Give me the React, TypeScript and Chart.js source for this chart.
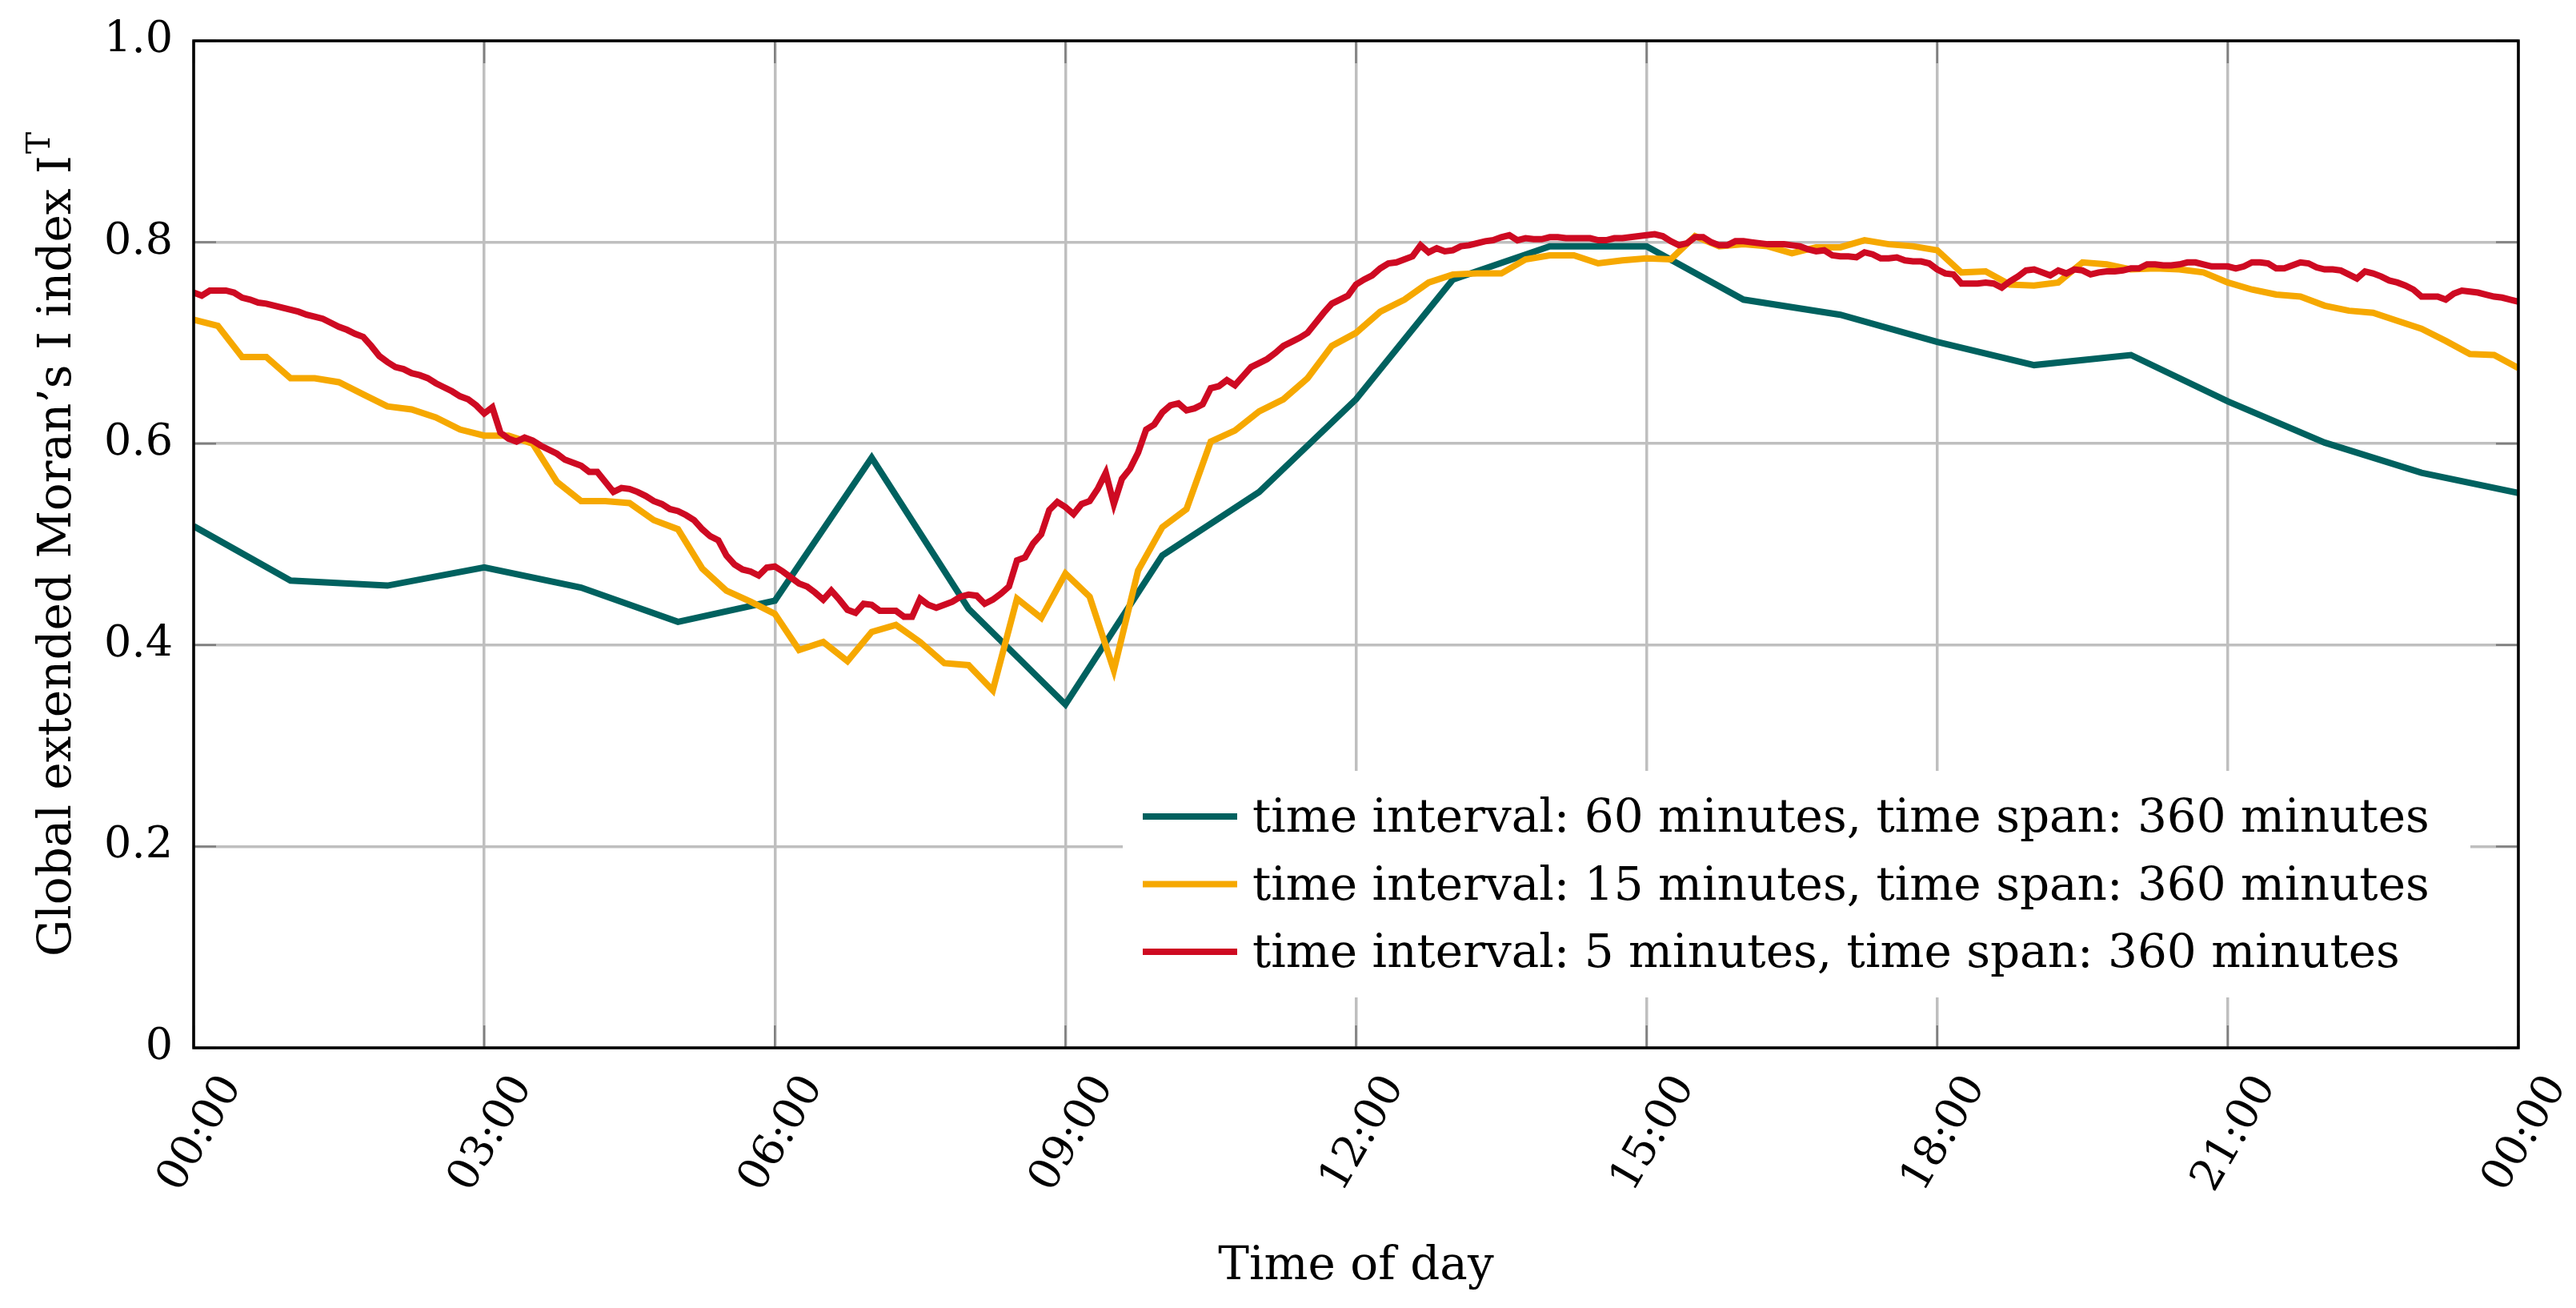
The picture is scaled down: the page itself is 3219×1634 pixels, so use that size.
import React, { useEffect, useRef } from 'react';
import { Chart, registerables } from 'chart.js';

Chart.register(...registerables);

// ---------- data ----------
const xTickLabels = ['00:00', '03:00', '06:00', '09:00', '12:00', '15:00', '18:00', '21:00', '00:00'];
const seriesLabels = [
  'time interval: 60 minutes, time span: 360 minutes',
  'time interval: 15 minutes, time span: 360 minutes',
  'time interval: 5 minutes, time span: 360 minutes',
];
const seriesColors = ['#00615F', '#F6A800', '#CE0A22'];
const seriesIntervals = [60, 15, 5]; // minutes between samples

const values60 = [
  0.518, 0.464, 0.459, 0.477, 0.457, 0.423, 0.444, 0.586, 0.436, 0.341, 0.489, 0.552, 0.644,
  0.763, 0.796, 0.796, 0.743, 0.728, 0.701, 0.678, 0.688, 0.642, 0.601, 0.571, 0.551,
];

const values15 = [
  0.723, 0.717, 0.686, 0.686, 0.665, 0.665, 0.661, 0.649, 0.637, 0.634, 0.626, 0.614,
  0.608, 0.608, 0.600, 0.562, 0.543, 0.543, 0.541, 0.524, 0.515, 0.476, 0.454, 0.443,
  0.431, 0.395, 0.403, 0.384, 0.413, 0.420, 0.403, 0.382, 0.380, 0.355, 0.446, 0.427,
  0.471, 0.448, 0.375, 0.474, 0.517, 0.535, 0.602, 0.613, 0.632, 0.644, 0.665, 0.697,
  0.710, 0.731, 0.743, 0.760, 0.768, 0.769, 0.769, 0.783, 0.787, 0.787, 0.779, 0.782,
  0.784, 0.783, 0.806, 0.796, 0.798, 0.796, 0.789, 0.795, 0.795, 0.802, 0.798, 0.796,
  0.792, 0.770, 0.771, 0.758, 0.757, 0.760, 0.780, 0.778, 0.773, 0.774, 0.773, 0.770,
  0.760, 0.753, 0.748, 0.746, 0.737, 0.732, 0.730, 0.722, 0.714, 0.702, 0.689, 0.688,
  0.675,
];

const values5 = [
  0.750, 0.747, 0.752, 0.752, 0.752, 0.750, 0.745, 0.743, 0.740, 0.739, 0.737, 0.735,
  0.733, 0.731, 0.728, 0.726, 0.724, 0.720, 0.716, 0.713, 0.709, 0.706, 0.697, 0.687,
  0.681, 0.676, 0.674, 0.670, 0.668, 0.665, 0.660, 0.656, 0.652, 0.647, 0.644, 0.638,
  0.630, 0.636, 0.611, 0.605, 0.602, 0.606, 0.603, 0.598, 0.594, 0.590, 0.584, 0.581,
  0.578, 0.572, 0.572, 0.562, 0.552, 0.556, 0.555, 0.552, 0.548, 0.543, 0.540, 0.535,
  0.533, 0.529, 0.524, 0.515, 0.508, 0.504, 0.489, 0.480, 0.475, 0.473, 0.469, 0.477,
  0.478, 0.473, 0.467, 0.461, 0.458, 0.452, 0.445, 0.454, 0.445, 0.435, 0.432, 0.441,
  0.440, 0.434, 0.434, 0.434, 0.428, 0.428, 0.446, 0.440, 0.437, 0.440, 0.443, 0.448,
  0.450, 0.449, 0.441, 0.445, 0.451, 0.458, 0.484, 0.487, 0.501, 0.510, 0.534, 0.542,
  0.537, 0.530, 0.540, 0.543, 0.555, 0.571, 0.540, 0.565, 0.575, 0.591, 0.614, 0.619,
  0.631, 0.638, 0.640, 0.633, 0.635, 0.639, 0.655, 0.657, 0.663, 0.658, 0.667, 0.676,
  0.680, 0.684, 0.690, 0.697, 0.701, 0.705, 0.710, 0.720, 0.730, 0.739, 0.743, 0.747,
  0.758, 0.763, 0.767, 0.774, 0.779, 0.780, 0.783, 0.786, 0.797, 0.790, 0.794, 0.791,
  0.792, 0.796, 0.797, 0.799, 0.801, 0.802, 0.805, 0.807, 0.802, 0.804, 0.803, 0.803,
  0.805, 0.805, 0.804, 0.804, 0.804, 0.804, 0.802, 0.802, 0.804, 0.804, 0.805, 0.806,
  0.807, 0.808, 0.806, 0.801, 0.797, 0.799, 0.805, 0.805, 0.800, 0.797, 0.797, 0.801,
  0.801, 0.800, 0.799, 0.798, 0.798, 0.798, 0.797, 0.796, 0.793, 0.791, 0.792, 0.787,
  0.786, 0.786, 0.785, 0.790, 0.788, 0.784, 0.784, 0.785, 0.782, 0.781, 0.781, 0.779,
  0.773, 0.769, 0.768, 0.759, 0.759, 0.759, 0.760, 0.759, 0.755, 0.761, 0.766, 0.772,
  0.773, 0.770, 0.767, 0.772, 0.769, 0.773, 0.772, 0.768, 0.770, 0.771, 0.771, 0.772,
  0.774, 0.774, 0.778, 0.778, 0.777, 0.777, 0.778, 0.780, 0.780, 0.778, 0.776, 0.776,
  0.776, 0.774, 0.776, 0.780, 0.780, 0.779, 0.774, 0.774, 0.777, 0.780, 0.779, 0.775,
  0.773, 0.773, 0.772, 0.768, 0.764, 0.771, 0.769, 0.766, 0.762, 0.760, 0.757, 0.753,
  0.746, 0.746, 0.746, 0.743, 0.749, 0.752, 0.751, 0.750, 0.748, 0.746, 0.745, 0.743,
  0.741,
];

const xTitle = 'Time of day';
const yTitleMain = 'Global extended Moran\u2019s I index I';
const yTitleSup = 'T';

// ---------- styling ----------
const FONT = '"DejaVu Serif", "Liberation Serif", serif';
const FS = 58;
const TICK_FS = 54;
const LINE_W = 8;
const W = 3219;
const H = 1634;

const toPoints = (vals: number[], step: number) => vals.map((v, i) => ({ x: i * step, y: v }));

const zeroPad = (s: any) => {
  s.paddingTop = 0;
  s.paddingBottom = 0;
  s.paddingLeft = 0;
  s.paddingRight = 0;
};

const decorPlugin = {
  id: 'decor',
  beforeDatasetsDraw(chart: any) {
    const { ctx, chartArea: a, scales } = chart;
    const L = 28;
    ctx.save();
    ctx.strokeStyle = '#7f7f7f';
    ctx.lineWidth = 2.5;
    ctx.beginPath();
    scales.x.ticks.forEach((t: any) => {
      const px = scales.x.getPixelForValue(t.value);
      ctx.moveTo(px, a.top); ctx.lineTo(px, a.top + L);
      ctx.moveTo(px, a.bottom); ctx.lineTo(px, a.bottom - L);
    });
    scales.y.ticks.forEach((t: any) => {
      const py = scales.y.getPixelForValue(t.value);
      ctx.moveTo(a.left, py); ctx.lineTo(a.left + L, py);
      ctx.moveTo(a.right, py); ctx.lineTo(a.right - L, py);
    });
    ctx.stroke();
    ctx.restore();
  },
  afterDatasetsDraw(chart: any) {
    const { ctx, chartArea: a } = chart;
    ctx.save();
    ctx.strokeStyle = '#000';
    ctx.lineWidth = 3.5;
    ctx.strokeRect(a.left, a.top, a.right - a.left, a.bottom - a.top);

    // legend
    const box = { x: 1403, y: 963, w: 1684, h: 283 };
    ctx.fillStyle = '#fff';
    ctx.fillRect(box.x, box.y, box.w, box.h);
    ctx.font = `${FS}px ${FONT}`;
    ctx.textAlign = 'left';
    ctx.textBaseline = 'alphabetic';
    chart.data.datasets.forEach((ds: any, i: number) => {
      const cy = 1020 + i * 84.5;
      ctx.strokeStyle = ds.borderColor;
      ctx.lineWidth = LINE_W;
      ctx.beginPath();
      ctx.moveTo(1428, cy);
      ctx.lineTo(1546, cy);
      ctx.stroke();
      ctx.fillStyle = '#000';
      ctx.fillText(ds.label, 1565, cy + 19);
    });
    ctx.restore();
  },
  afterDraw(chart: any) {
    const { ctx, chartArea: a } = chart;
    ctx.save();
    ctx.fillStyle = '#000';
    // x title
    ctx.font = `${FS}px ${FONT}`;
    ctx.textAlign = 'center';
    ctx.textBaseline = 'alphabetic';
    ctx.fillText(xTitle, (a.left + a.right) / 2, 1598);
    // y title with superscript
    const supSize = Math.round(FS * 0.7);
    ctx.font = `${FS}px ${FONT}`;
    const wMain = ctx.measureText(yTitleMain).width;
    ctx.font = `${supSize}px ${FONT}`;
    const wSup = ctx.measureText(yTitleSup).width;
    const total = wMain + wSup + 2;
    ctx.translate(88, (a.top + a.bottom) / 2);
    ctx.rotate(-Math.PI / 2);
    ctx.textAlign = 'left';
    ctx.font = `${FS}px ${FONT}`;
    ctx.fillText(yTitleMain, -total / 2, 0);
    ctx.font = `${supSize}px ${FONT}`;
    ctx.fillText(yTitleSup, -total / 2 + wMain + 2, -26);
    ctx.restore();
  },
};

export default function App() {
  const canvasRef = useRef<HTMLCanvasElement | null>(null);

  useEffect(() => {
    document.body.style.margin = '0';
    const canvas = canvasRef.current;
    if (!canvas) return;
    const allValues = [values60, values15, values5];
    const chart = new Chart(canvas, {
      type: 'line',
      data: {
        datasets: allValues.map((vals, i) => ({
          label: seriesLabels[i],
          data: toPoints(vals, seriesIntervals[i]),
          borderColor: seriesColors[i],
          backgroundColor: seriesColors[i],
          borderWidth: LINE_W,
          pointRadius: 0,
          tension: 0,
          fill: false,
          order: 2 - i,
        })),
      },
      options: {
        animation: false,
        responsive: false,
        devicePixelRatio: 1,
        layout: { autoPadding: false, padding: { top: 51, right: 72, bottom: 0, left: 0 } },
        plugins: {
          legend: { display: false },
          tooltip: { enabled: false },
          title: { display: false },
        },
        scales: {
          x: {
            type: 'linear',
            min: 0,
            max: 1440,
            afterFit: (s: any) => { s.height = H - 1309; zeroPad(s); },
            border: { display: false },
            grid: { color: '#bfbfbf', lineWidth: 3.5, drawTicks: false },
            ticks: {
              stepSize: 180,
              autoSkip: false,
              maxRotation: 60,
              minRotation: 60,
              padding: 24,
              labelOffset: 48,
              color: '#000',
              font: { family: FONT, size: TICK_FS },
              callback: (v: any) => xTickLabels[Math.round(Number(v) / 180)] ?? '',
            },
          },
          y: {
            type: 'linear',
            min: 0,
            max: 1,
            afterFit: (s: any) => { s.width = 242; zeroPad(s); },
            border: { display: false },
            grid: { color: '#bfbfbf', lineWidth: 3.5, drawTicks: false },
            ticks: {
              stepSize: 0.2,
              padding: 26,
              color: '#000',
              font: { family: FONT, size: TICK_FS },
              callback: (v: any) => (Math.abs(Number(v)) < 1e-9 ? '0' : Number(v).toFixed(1)),
            },
          },
        },
      },
      plugins: [decorPlugin],
    } as any);
    return () => chart.destroy();
  }, []);

  return (
    <div style={{ position: 'fixed', left: 0, top: 0, width: W, height: H, background: '#fff' }}>
      <canvas ref={canvasRef} width={W} height={H} style={{ display: 'block', width: W, height: H }} />
    </div>
  );
}
